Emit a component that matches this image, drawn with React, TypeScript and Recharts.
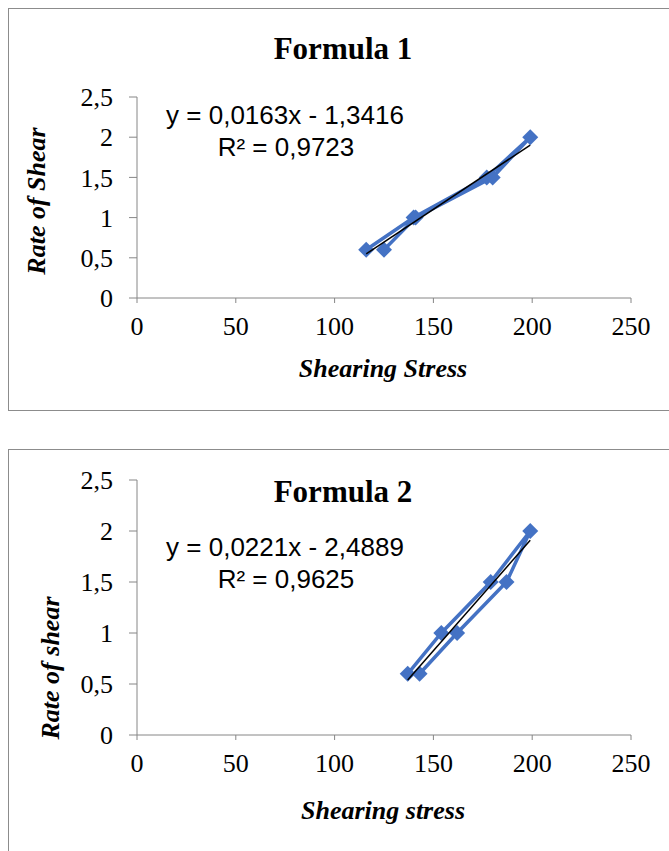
import React from 'react'
import { ComposedChart, Scatter, XAxis, YAxis } from 'recharts'

// shearing stress / rate of shear, up curve then down curve
const stressF1 = [116, 140, 177, 199, 180, 141, 125]
const rateF1 = [0.6, 1, 1.5, 2, 1.5, 1, 0.6]
const stressF2 = [137, 154, 179, 199, 187, 162, 143]
const rateF2 = [0.6, 1, 1.5, 2, 1.5, 1, 0.6]

const xTicks = [0, 50, 100, 150, 200, 250]
const yTicks = [0, 0.5, 1, 1.5, 2, 2.5]

// linear trendlines (Excel)
const slopeF1 = 0.0163
const interceptF1 = -1.3416
const r2F1 = 0.9723
const slopeF2 = 0.0221
const interceptF2 = -2.4889
const r2F2 = 0.9625

const BLUE = '#4472C4'
const AXIS = '#868686'
const SERIF = '"Liberation Serif", "Times New Roman", serif'
const SANS = '"Liberation Sans", Arial, sans-serif'

const comma = (v: number, digits?: number) =>
  (digits === undefined ? String(v) : v.toFixed(digits)).replace('.', ',')

const Diamond = (props: any) => {
  const { cx, cy } = props
  if (cx == null || cy == null) return <g />
  const r = 8
  return <path d={`M${cx},${cy - r}L${cx + r},${cy}L${cx},${cy + r}L${cx - r},${cy}Z`} fill={BLUE} />
}

interface ChartProps {
  title: string
  xLabel: string
  yLabel: string
  stress: number[]
  rate: number[]
  slope: number
  intercept: number
  r2: number
  height: number
  plotTop: number
  plotHeight: number
  titleY: number
  eqY: number
  xLabelY: number
  yLabelX: number
  yLabelY: number
}

const W = 700

const FormulaChart: React.FC<ChartProps> = (p) => {
  const points = p.stress.map((s, i) => ({ stress: s, rate: p.rate[i] }))
  const xMin = Math.min(...p.stress)
  const xMax = Math.max(...p.stress)
  const trend = [
    { stress: xMin, rate: p.slope * xMin + p.intercept },
    { stress: xMax, rate: p.slope * xMax + p.intercept }
  ]
  const plotBottom = p.plotTop + p.plotHeight
  const sign = p.intercept < 0 ? '-' : '+'
  const eq = `y = ${comma(p.slope, 4)}x ${sign} ${comma(Math.abs(p.intercept), 4)}`

  return (
    <ComposedChart
      width={W}
      height={p.height}
      margin={{ top: p.plotTop, right: 77, left: 0, bottom: 0 }}
    >
      <XAxis
        type="number"
        dataKey="stress"
        domain={[0, 250]}
        ticks={xTicks}
        height={p.height - plotBottom}
        stroke={AXIS}
        tickSize={5}
        tickMargin={14}
        tick={{ fill: '#000', fontSize: 26, fontFamily: SERIF }}
        interval={0}
      />
      <YAxis
        type="number"
        dataKey="rate"
        domain={[0, 2.5]}
        ticks={yTicks}
        width={129}
        stroke={AXIS}
        tickSize={8}
        tickMargin={16}
        tickFormatter={(v: number) => comma(v)}
        tick={{ fill: '#000', fontSize: 26, fontFamily: SERIF }}
        interval={0}
      />
      <Scatter
        data={points}
        line={{ stroke: BLUE, strokeWidth: 3.5 }}
        lineType="joint"
        shape={Diamond}
        isAnimationActive={false}
      />
      <Scatter
        data={trend}
        line={{ stroke: '#000', strokeWidth: 1.5 }}
        lineType="joint"
        shape={() => <g />}
        isAnimationActive={false}
      />
      <text x={335} y={p.titleY} textAnchor="middle" fontFamily={SERIF} fontWeight="bold" fontSize={31} fill="#000">
        {p.title}
      </text>
      <text x={277} y={p.eqY} textAnchor="middle" fontFamily={SANS} fontSize={26} fill="#000">
        {eq}
      </text>
      <text x={278} y={p.eqY + 32} textAnchor="middle" fontFamily={SANS} fontSize={26} fill="#000">
        {`R² = ${comma(p.r2, 4)}`}
      </text>
      <text x={375} y={p.xLabelY} textAnchor="middle" fontFamily={SERIF} fontWeight="bold" fontStyle="italic" fontSize={26} fill="#000">
        {p.xLabel}
      </text>
      <text
        x={p.yLabelX}
        y={p.yLabelY}
        textAnchor="middle"
        dominantBaseline="central"
        transform={`rotate(-90, ${p.yLabelX}, ${p.yLabelY})`}
        fontFamily={SERIF}
        fontWeight="bold"
        fontStyle="italic"
        fontSize={26}
        fill="#000"
      >
        {p.yLabel}
      </text>
    </ComposedChart>
  )
}

const boxStyle = (top: number, height: number): React.CSSProperties => ({
  position: 'absolute',
  left: 8,
  top,
  width: W,
  height,
  border: '1px solid #8c8c8c',
  boxSizing: 'border-box',
  pointerEvents: 'none'
})

export default function App() {
  return (
    <div style={{ position: 'absolute', left: 0, top: 0, width: 669, height: 851, overflow: 'hidden', background: '#fff' }}>
      <div style={{ position: 'absolute', left: 8, top: 8 }}>
        <FormulaChart
          title="Formula 1"
          xLabel="Shearing Stress"
          yLabel="Rate of Shear"
          stress={stressF1}
          rate={rateF1}
          slope={slopeF1}
          intercept={interceptF1}
          r2={r2F1}
          height={403}
          plotTop={89}
          plotHeight={201}
          titleY={51}
          eqY={116}
          xLabelY={369}
          yLabelX={28}
          yLabelY={193}
        />
      </div>
      <div style={boxStyle(8, 403)} />
      <div style={{ position: 'absolute', left: 8, top: 449 }}>
        <FormulaChart
          title="Formula 2"
          xLabel="Shearing stress"
          yLabel="Rate of shear"
          stress={stressF2}
          rate={rateF2}
          slope={slopeF2}
          intercept={interceptF2}
          r2={r2F2}
          height={420}
          plotTop={31}
          plotHeight={255}
          titleY={53}
          eqY={107}
          xLabelY={370}
          yLabelX={42}
          yLabelY={219}
        />
      </div>
      <div style={boxStyle(449, 420)} />
    </div>
  )
}
